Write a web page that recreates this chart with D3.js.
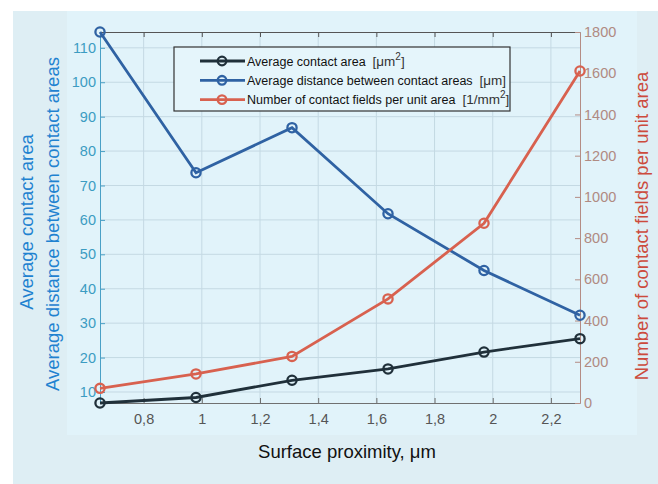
<!DOCTYPE html>
<html>
<head>
<meta charset="utf-8">
<script src="https://cdn.jsdelivr.net/npm/d3@7"></script>
<style>
  body { margin: 0; background: #fff; }
  svg { display: block; font-family: "Liberation Sans", Arial, sans-serif; }
</style>
</head>
<body>
<svg id="chart" width="658" height="484"></svg>
<script>
// data
const proximity = [0.65, 0.98, 1.31, 1.64, 1.97, 2.30];
const contactArea = [6.8, 8.4, 13.4, 16.7, 21.6, 25.5];
const contactDistance = [114.6, 73.7, 86.8, 61.8, 45.3, 32.3];
const fieldsPerArea = [71, 141, 226, 505, 872, 1611];

const xTicks = [0.8, 1, 1.2, 1.4, 1.6, 1.8, 2, 2.2];
const leftTicks = [10, 20, 30, 40, 50, 60, 70, 80, 90, 100, 110];
const rightTicks = [0, 200, 400, 600, 800, 1000, 1200, 1400, 1600, 1800];

const svg = d3.select("#chart");

// backgrounds
svg.append("rect").attr("x", 13).attr("y", 11).attr("width", 645).attr("height", 473).attr("fill", "#deeef4");
svg.append("rect").attr("x", 67).attr("y", 11).attr("width", 570).attr("height", 424).attr("fill", "#e1f3fa");

const plotL = 100, plotR = 580, plotT = 32, plotB = 403;

const x = d3.scaleLinear().domain([0.65, 2.30]).range([plotL, plotR]);
const yL = d3.scaleLinear().domain([6.8, 114.6]).range([plotB, plotT]);
const yR = d3.scaleLinear().domain([0, 1800]).range([plotB, plotT]);

const comma = d => String(d).replace(".", ",");

// grid
const grid = svg.append("g");
grid.selectAll(".gx").data(xTicks).enter().append("line")
    .attr("x1", d => x(d)).attr("x2", d => x(d))
    .attr("y1", plotT).attr("y2", plotB)
    .attr("stroke", "#c4d9e3").attr("stroke-width", 1);
grid.selectAll(".gy").data(leftTicks).enter().append("line")
    .attr("x1", plotL).attr("x2", plotR)
    .attr("y1", d => yL(d)).attr("y2", d => yL(d))
    .attr("stroke", "#c4d9e3").attr("stroke-width", 1);

// axes
const xAxis = svg.append("g").attr("transform", `translate(0,${plotB})`)
    .call(d3.axisBottom(x).tickValues(xTicks).tickFormat(comma).tickSizeInner(-5).tickSizeOuter(0).tickPadding(11));
xAxis.select(".domain").attr("stroke", "#707070");
xAxis.selectAll(".tick line").attr("stroke", "#707070");
xAxis.selectAll("text").attr("fill", "#555").style("font-size", "14.5px");

const xTop = svg.append("g").attr("transform", `translate(0,${plotT})`)
    .call(d3.axisTop(x).tickValues(xTicks).tickFormat("").tickSizeInner(-5).tickSizeOuter(0));
xTop.select(".domain").attr("stroke", "#555");
xTop.selectAll(".tick line").attr("stroke", "#555");

const lAxis = svg.append("g").attr("transform", `translate(${plotL},0)`)
    .call(d3.axisLeft(yL).tickValues(leftTicks).tickSizeInner(-5).tickSizeOuter(0).tickPadding(4));
lAxis.select(".domain").attr("stroke", "#4aa0c6");
lAxis.selectAll(".tick line").attr("stroke", "#4aa0c6");
lAxis.selectAll("text").attr("fill", "#3c9cc2").style("font-size", "14.5px");

const rAxis = svg.append("g").attr("transform", `translate(${plotR},0)`)
    .call(d3.axisRight(yR).tickValues(rightTicks).tickFormat(d3.format("d")).tickSizeInner(-5).tickSizeOuter(0).tickPadding(4));
rAxis.select(".domain").attr("stroke", "#b48c84");
rAxis.selectAll(".tick line").attr("stroke", "#b48c84");
rAxis.selectAll("text").attr("fill", "#b08a82").style("font-size", "14.5px");

// series
const series = [
    { values: contactArea, scale: yL, color: "#20303a" },
    { values: contactDistance, scale: yL, color: "#2f62a3" },
    { values: fieldsPerArea, scale: yR, color: "#d8614f" }
];

series.forEach(s => {
    const line = d3.line().x((d, i) => x(proximity[i])).y(d => s.scale(d));
    svg.append("path").datum(s.values)
        .attr("d", line)
        .attr("fill", "none")
        .attr("stroke", s.color)
        .attr("stroke-width", 2.8);
    svg.selectAll(null).data(s.values).enter().append("circle")
        .attr("cx", (d, i) => x(proximity[i]))
        .attr("cy", d => s.scale(d))
        .attr("r", 4.6)
        .attr("fill", "none")
        .attr("stroke", s.color)
        .attr("stroke-width", 2.3);
});

// legend
const legend = svg.append("g");
legend.append("rect").attr("x", 174).attr("y", 47).attr("width", 336).attr("height", 64)
    .attr("fill", "#e5f5fb").attr("stroke", "#333").attr("stroke-width", 1.2);
const legendItems = [
    { name: "Average contact area", unit: "[\u03bcm", sup: "2", end: "]", color: "#20303a" },
    { name: "Average distance between contact areas", unit: "[\u03bcm]", sup: "", end: "", color: "#2f62a3" },
    { name: "Number of contact fields per unit area", unit: "[1/mm", sup: "2", end: "]", color: "#d8614f" }
];
legendItems.forEach((item, i) => {
    const cy = 61 + i * 19.3;
    legend.append("line").attr("x1", 200).attr("x2", 245).attr("y1", cy).attr("y2", cy)
        .attr("stroke", item.color).attr("stroke-width", 2.8);
    legend.append("circle").attr("cx", 222).attr("cy", cy).attr("r", 4.3)
        .attr("fill", "none").attr("stroke", item.color).attr("stroke-width", 2.3);
    const t = legend.append("text").attr("x", 247).attr("y", cy + 4.5)
        .attr("fill", "#111").style("font-size", "12.5px");
    t.append("tspan").text(item.name + "\u00a0\u00a0");
    t.append("tspan").style("font-size", "13.5px").attr("fill", "#333").text(item.unit);
    if (item.sup) {
        t.append("tspan").attr("dy", -6).style("font-size", "10px").attr("fill", "#333").text(item.sup);
        t.append("tspan").attr("dy", 6).style("font-size", "13.5px").attr("fill", "#333").text(item.end);
    }
});

// axis titles
svg.append("text").attr("transform", "translate(33,222) rotate(-90)")
    .attr("text-anchor", "middle").attr("fill", "#1f82d0").style("font-size", "18.5px")
    .text("Average contact area");
svg.append("text").attr("transform", "translate(59,224) rotate(-90)")
    .attr("text-anchor", "middle").attr("fill", "#1f82d0").style("font-size", "18.5px")
    .text("Average distance between contact areas");
svg.append("text").attr("transform", "translate(648,226) rotate(-90)")
    .attr("text-anchor", "middle").attr("fill", "#cc4a3c").style("font-size", "18.5px")
    .text("Number of contact fields per unit area");
svg.append("text").attr("x", 347).attr("y", 458)
    .attr("text-anchor", "middle").attr("fill", "#111").style("font-size", "18.5px")
    .text("Surface proximity, \u03bcm");
</script>
</body>
</html>
